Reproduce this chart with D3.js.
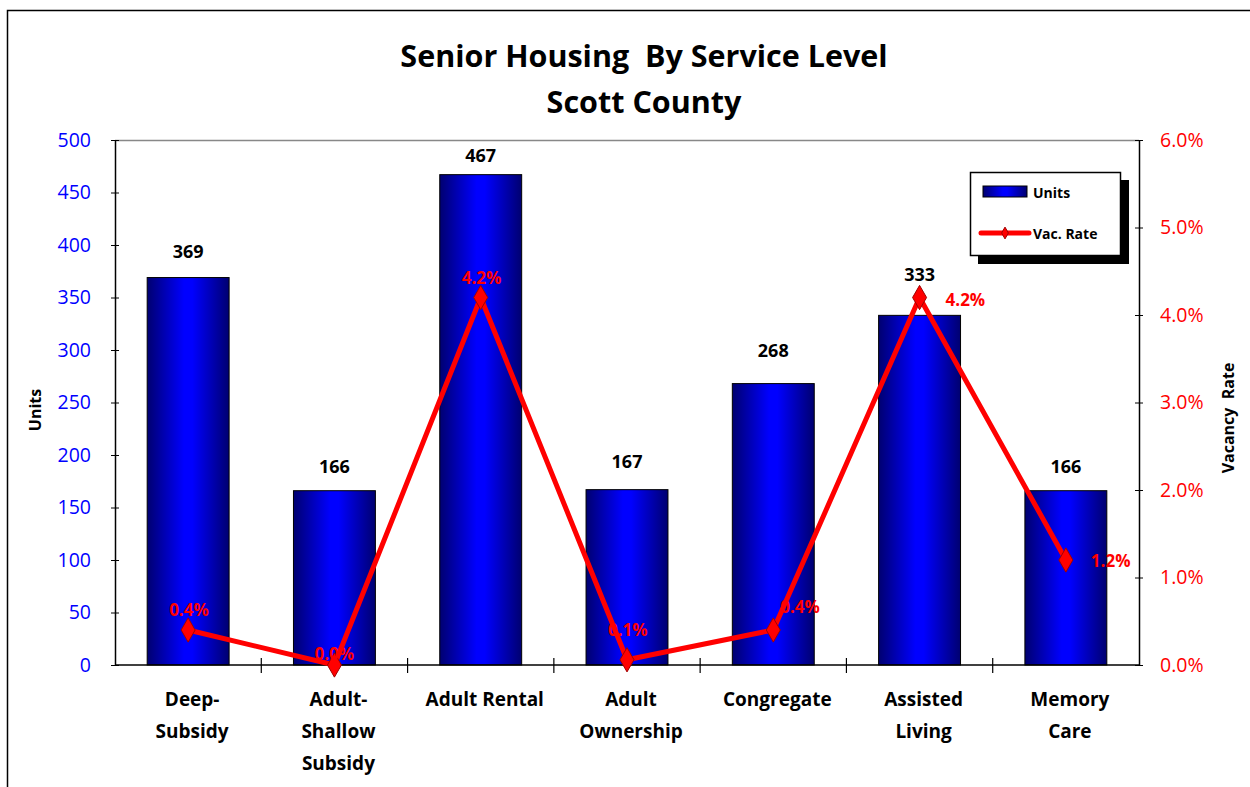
<!DOCTYPE html>
<html>
<head>
<meta charset="utf-8">
<script src="https://cdn.jsdelivr.net/npm/d3@7"></script>
<style>
  body { margin: 0; background: white; }
  svg text { font-family: "Open Sans", Lato, sans-serif; }
</style>
</head>
<body>
<div id="d3-container"></div>
<script>
// chart data
let categories = [["Deep-", "Subsidy"], ["Adult-", "Shallow", "Subsidy"], ["Adult Rental"], ["Adult", "Ownership"], ["Congregate"], ["Assisted", "Living"], ["Memory", "Care"]];
let units = [369, 166, 467, 167, 268, 333, 166];
let vacRate = [0.4, 0.0, 4.2, 0.06, 0.4, 4.2, 1.2];
let unitTicks = [0, 50, 100, 150, 200, 250, 300, 350, 400, 450, 500];
let rateTicks = [0, 1, 2, 3, 4, 5, 6];

// label placement offsets (layout only, like Excel's hand-dragged labels)
let rateLabelDx = [-19, -20, -19, -19, 7, 26, 25];
let rateLabelDy = [-14, -5, -14, -24, -17, 8, 7];
let barLabelGap = [20, 18, 13, 22, 27, 34, 18];

let W = 1250, H = 787;
let margin = { top: 140, left: 115, right: 111, bottom: 122 },
  width = W - margin.left - margin.right,
  height = H - margin.top - margin.bottom;

let svg = d3.select('#d3-container')
  .append('svg')
  .attr('width', W)
  .attr('height', H);

// outer chart border
svg.append('rect')
  .attr('x', 7.5).attr('y', 10.5)
  .attr('width', W + 10).attr('height', H + 10)
  .attr('fill', 'white').attr('stroke', 'black').attr('stroke-width', 1.5);

// bar gradient
let defs = svg.append('defs');
let grad = defs.append('linearGradient').attr('id', 'barGrad').attr('x1', '0%').attr('x2', '100%');
grad.append('stop').attr('offset', '0%').attr('stop-color', '#000070');
grad.append('stop').attr('offset', '45%').attr('stop-color', '#0000ff');
grad.append('stop').attr('offset', '55%').attr('stop-color', '#0000ff');
grad.append('stop').attr('offset', '100%').attr('stop-color', '#000070');

// title
svg.append('text').attr('x', 644).attr('y', 67).attr('text-anchor', 'middle')
  .style('font-size', '30.5px').style('font-weight', 'bold').style('white-space', 'pre')
  .text('Senior Housing  By Service Level');
svg.append('text').attr('x', 644).attr('y', 113).attr('text-anchor', 'middle')
  .style('font-size', '30.5px').style('font-weight', 'bold')
  .text('Scott County');

let g = svg.append('g').attr('transform', 'translate(' + margin.left + ',' + margin.top + ')');

let idx = d3.range(categories.length);
let x = d3.scaleBand().domain(idx).range([0, width]).paddingInner(0.44).paddingOuter(0.22);
let xc = d3.scaleBand().domain(idx).range([0, width]);
let y = d3.scaleLinear().domain([0, 500]).range([height, 0]);
let y2 = d3.scaleLinear().domain([0, 6]).range([height, 0]);

// plot area top border
g.append('line').attr('x1', 0).attr('x2', width).attr('y1', 0.5).attr('y2', 0.5)
  .attr('stroke', '#888').attr('stroke-width', 1.5);

// bars
g.selectAll('.bar')
  .data(units)
  .enter().append('rect')
  .attr('class', 'bar')
  .attr('x', (d, i) => x(i))
  .attr('width', x.bandwidth())
  .attr('y', d => y(d))
  .attr('height', d => height - y(d))
  .attr('fill', 'url(#barGrad)')
  .attr('stroke', 'black')
  .attr('stroke-width', 1);

// bar value labels
g.selectAll('.barLabel')
  .data(units)
  .enter().append('text')
  .attr('x', (d, i) => xc(i) + xc.bandwidth() / 2)
  .attr('y', (d, i) => y(d) - barLabelGap[i])
  .attr('text-anchor', 'middle')
  .style('font-size', '18px').style('font-weight', 'bold')
  .text(d => d);

// left axis
let axL = g.append('g')
  .call(d3.axisLeft(y).tickValues(unitTicks).tickSize(8).tickSizeOuter(0));
axL.selectAll('text').attr('fill', '#0000ff').style('font-size', '19.5px').attr('x', -24);
axL.selectAll('line').attr('transform', 'translate(4,0)');
axL.select('.domain').attr('stroke-width', 1.5);

// right axis
let axR = g.append('g').attr('transform', 'translate(' + width + ',0)')
  .call(d3.axisRight(y2).tickValues(rateTicks).tickSize(8).tickSizeOuter(0).tickFormat(d => d.toFixed(1) + '%'));
axR.selectAll('text').attr('fill', '#ff0000').style('font-size', '19.5px').attr('x', 21);
axR.selectAll('line').attr('transform', 'translate(-4,0)');
axR.select('.domain').attr('stroke-width', 1.5);

// bottom axis with ticks between categories
g.append('line').attr('x1', 0).attr('x2', width).attr('y1', height).attr('y2', height)
  .attr('stroke', 'black').attr('stroke-width', 1.5);
g.selectAll('.xtick')
  .data(d3.range(1, categories.length))
  .enter().append('line')
  .attr('x1', d => xc(d)).attr('x2', d => xc(d))
  .attr('y1', height - 7).attr('y2', height + 8)
  .attr('stroke', 'black').attr('stroke-width', 1.2);

// category labels
let xl = g.selectAll('.xlab')
  .data(categories)
  .enter().append('text')
  .attr('text-anchor', 'middle')
  .attr('transform', (d, i) => 'translate(' + (xc(i) + xc.bandwidth() / 2 + 4) + ',' + (height + 41) + ')')
  .style('font-size', '19px').style('font-weight', 'bold');
xl.selectAll('tspan')
  .data(d => d)
  .enter().append('tspan')
  .attr('x', 0)
  .attr('dy', (d, i) => i === 0 ? 0 : 32)
  .text(d => d);

// axis titles
svg.append('text').attr('transform', 'translate(41,410) rotate(-90)')
  .attr('text-anchor', 'middle').style('font-size', '16px').style('font-weight', 'bold')
  .text('Units');
svg.append('text').attr('transform', 'translate(1234,418) rotate(-90)')
  .attr('text-anchor', 'middle').style('font-size', '16px').style('font-weight', 'bold').style('white-space', 'pre')
  .text('Vacancy  Rate');

// vacancy rate line
let line = d3.line()
  .x((d, i) => xc(i) + xc.bandwidth() / 2)
  .y(d => y2(d));
g.append('path')
  .datum(vacRate)
  .attr('d', line)
  .attr('fill', 'none')
  .attr('stroke', '#ff0000')
  .attr('stroke-width', 5)
  .attr('stroke-linejoin', 'round');

g.selectAll('.marker')
  .data(vacRate)
  .enter().append('path')
  .attr('d', d3.symbol().type(d3.symbolDiamond).size(170))
  .attr('transform', (d, i) => 'translate(' + (xc(i) + xc.bandwidth() / 2) + ',' + y2(d) + ')')
  .attr('fill', '#ff0000')
  .attr('stroke', '#a00000')
  .attr('stroke-width', 1);

// vacancy rate labels
g.selectAll('.rateLabel')
  .data(vacRate)
  .enter().append('text')
  .attr('x', (d, i) => xc(i) + xc.bandwidth() / 2 + rateLabelDx[i])
  .attr('y', (d, i) => y2(d) + rateLabelDy[i])
  .attr('fill', '#ff0000')
  .style('font-size', '17px').style('font-weight', 'bold')
  .text(d => d.toFixed(1) + '%');

// legend
let lg = svg.append('g').attr('transform', 'translate(970,172)');
lg.append('rect').attr('x', 8).attr('y', 8).attr('width', 151).attr('height', 84).attr('fill', 'black');
lg.append('rect').attr('x', 0.5).attr('y', 0.5).attr('width', 150).attr('height', 83)
  .attr('fill', 'white').attr('stroke', 'black').attr('stroke-width', 1.5);
lg.append('rect').attr('x', 13).attr('y', 14).attr('width', 44).attr('height', 11)
  .attr('fill', 'url(#barGrad)').attr('stroke', 'black');
lg.append('text').attr('x', 63).attr('y', 26).style('font-size', '14px').style('font-weight', 'bold').text('Units');
lg.append('line').attr('x1', 11).attr('x2', 59).attr('y1', 61).attr('y2', 61)
  .attr('stroke', '#ff0000').attr('stroke-width', 5).attr('stroke-linecap', 'round');
lg.append('path').attr('d', d3.symbol().type(d3.symbolDiamond).size(40))
  .attr('transform', 'translate(35,61)').attr('fill', '#ff0000').attr('stroke', '#a00000');
lg.append('text').attr('x', 63).attr('y', 67).style('font-size', '14px').style('font-weight', 'bold').text('Vac. Rate');
</script>
</body>
</html>
